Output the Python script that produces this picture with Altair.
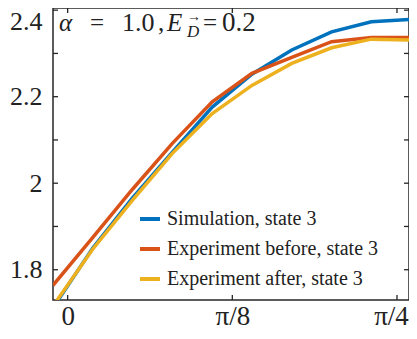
import altair as alt
import pandas as pd

# x positions in units of pi/8
x_vals = [-0.089, 0.153, 0.394, 0.636, 0.878, 1.119, 1.361, 1.603, 1.844, 2.086]
sim = [1.712, 1.850, 1.966, 2.072, 2.176, 2.252, 2.308, 2.350, 2.373, 2.379]
before = [1.764, 1.875, 1.986, 2.092, 2.188, 2.254, 2.291, 2.327, 2.337, 2.337]
after = [1.716, 1.848, 1.961, 2.069, 2.161, 2.226, 2.277, 2.313, 2.333, 2.331]

series = ["Simulation, state 3", "Experiment before, state 3", "Experiment after, state 3"]
colors = ["#0072BD", "#D95319", "#EDB120"]

y_ticks = [1.8, 1.9, 2.0, 2.1, 2.2, 2.3, 2.4]
y_label_vals = [1.8, 2.0, 2.2, 2.4]
x_ticks = [0, 1, 2]
x_tick_labels = ["0", "π/8", "π/4"]

X_DOMAIN = [-0.089, 2.073]
Y_DOMAIN = [1.730, 2.405]
W, H = 356, 292
FONT = "Liberation Serif, Times New Roman, serif"
INK = "#222222"

rows = []
for name, vals in zip(series, [sim, before, after]):
    for xv, yv in zip(x_vals, vals):
        rows.append({"x": xv, "y": yv, "series": name})
df = pd.DataFrame(rows)

xscale = alt.Scale(domain=X_DOMAIN, nice=False, zero=False)
yscale = alt.Scale(domain=Y_DOMAIN, nice=False, zero=False)

label_expr = " : ".join(
    [f"datum.value == {v} ? '{t}'" for v, t in zip(x_ticks[:-1], x_tick_labels[:-1])]
) + f" : '{x_tick_labels[-1]}'"

xaxis = alt.Axis(values=x_ticks, labelExpr=label_expr, ticks=False, domain=False,
                 grid=False, title=None, labelFont=FONT, labelFontSize=27,
                 labelColor=INK, labelPadding=24, labelBaseline="alphabetic",
                 labelOffset={"condition": {"test": "datum.value == 2", "value": -6}, "value": 0})
yaxis = alt.Axis(values=y_label_vals, labelExpr="datum.value + ''", ticks=False,
                 domain=False, grid=False, title=None, labelFont=FONT,
                 labelFontSize=26, labelColor=INK, labelPadding=11,
                 labelOffset={"condition": {"test": "datum.value == 2.4", "value": 11}, "value": 0})

lines = alt.Chart(df).mark_line(strokeWidth=3.5, clip=True).encode(
    x=alt.X("x:Q", scale=xscale, axis=xaxis),
    y=alt.Y("y:Q", scale=yscale, axis=yaxis),
    color=alt.Color("series:N", scale=alt.Scale(domain=series, range=colors),
                    legend=alt.Legend(orient="none", legendX=85, legendY=199, title=None,
                                      symbolType="stroke", symbolSize=400,
                                      symbolStrokeWidth=4, labelFont=FONT, labelFontSize=20,
                                      labelColor=INK, labelOffset=5, rowPadding=8,
                                      padding=0, labelLimit=400)),
    detail="series:N",
)

ydf = pd.DataFrame({"y": y_ticks})
xdf = pd.DataFrame({"x": x_ticks})
tick_style = dict(strokeWidth=1.3, color="#262626")

left_ticks = alt.Chart(ydf).mark_rule(**tick_style).encode(
    y=alt.Y("y:Q", scale=yscale, axis=yaxis), x=alt.value(0), x2=alt.value(5))
right_ticks = alt.Chart(ydf).mark_rule(**tick_style).encode(
    y=alt.Y("y:Q", scale=yscale, axis=yaxis), x=alt.value(W - 5), x2=alt.value(W))
bottom_ticks = alt.Chart(xdf).mark_rule(**tick_style).encode(
    x=alt.X("x:Q", scale=xscale, axis=xaxis), y=alt.value(H - 5), y2=alt.value(H))
top_ticks = alt.Chart(xdf).mark_rule(**tick_style).encode(
    x=alt.X("x:Q", scale=xscale, axis=xaxis), y=alt.value(0), y2=alt.value(5))

# annotation pieces: text, x, y (pixel offsets in plot), size, style
ann = [
    ("α", 6, 23, 25, "italic"),
    ("=", 37, 23, 25, "normal"),
    ("1.0", 69, 23, 26, "normal"),
    (",", 105, 23, 25, "normal"),
    ("E", 114, 23, 25, "italic"),
    ("D", 134, 29, 17, "italic"),
    ("→", 134, 13, 14, "normal"),
    ("=", 150, 23, 25, "normal"),
    ("0.2", 169, 23, 27, "normal"),
]
texts = []
for t, ax, ay, fs, st in ann:
    texts.append(
        alt.Chart(pd.DataFrame({"t": [t]})).mark_text(
            align="left", baseline="alphabetic", font=FONT, fontSize=fs,
            fontStyle=st, color=INK
        ).encode(text="t:N", x=alt.value(ax), y=alt.value(ay))
    )

chart = alt.layer(lines, left_ticks, right_ticks, bottom_ticks, top_ticks, *texts).properties(
    width=W, height=H,
    autosize=alt.AutoSizeParams(type="none"),
    padding={"left": 45, "top": 0, "right": 0, "bottom": 30},
).configure_view(stroke="#262626", strokeWidth=1.5)

chart.save("out.html", embed_options={"renderer": "svg", "actions": False})
